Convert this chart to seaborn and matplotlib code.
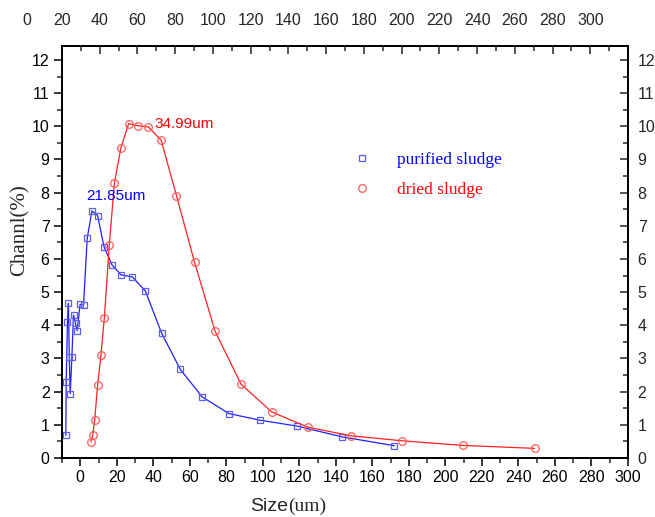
import matplotlib
matplotlib.use("Agg")
import matplotlib.pyplot as plt
from matplotlib.lines import Line2D
from matplotlib.ticker import MultipleLocator
import numpy as np
import pandas as pd
import seaborn as sns

# ---- data ----
purified_x = [-7.9, -7.7, -7.0, -6.5, -6.0, -5.5, -4.6, -3.7, -2.6, -1.7, -0.1, 1.8,
              3.8, 6.4, 9.5, 13.0, 17.4, 22.3, 28.5, 35.7, 44.5, 54.8,
              66.8, 81.4, 98.4, 118.9, 143.2, 172.0]
purified_y = [0.68, 2.29, 4.11, 4.66, 3.03, 1.94, 3.03, 4.31, 4.06, 3.84, 4.63, 4.61,
              6.62, 7.45, 7.31, 6.37, 5.82, 5.52, 5.46, 5.03, 3.77, 2.67,
              1.84, 1.34, 1.14, 0.96, 0.64, 0.37]

dried_x = [5.9, 6.8, 7.9, 9.5, 11.3, 13.2, 15.9, 18.7, 22.3, 26.5, 31.5, 37.3,
           44.3, 52.7, 62.6, 73.8, 88.0, 104.8, 124.6, 148.2, 176.0, 209.5, 248.8]
dried_y = [0.49, 0.69, 1.15, 2.19, 3.09, 4.23, 6.42, 8.29, 9.36, 10.08, 10.02, 9.98,
           9.58, 7.91, 5.90, 3.83, 2.23, 1.39, 0.93, 0.67, 0.52, 0.38, 0.29]

series_names = ["purified sludge", "dried sludge"]
peak_labels = ["21.85um", "34.99um"]
bottom_ticks = list(range(0, 301, 20))
top_ticks = list(range(20, 301, 20))
y_ticks = list(range(0, 13))

sns.set_style("ticks")
plt.rcParams["font.family"] = ["Liberation Sans", "DejaVu Sans"]

fig = plt.figure(figsize=(6.55, 5.17), dpi=100)
ax = fig.add_axes([62 / 655, 1 - 458 / 517, 566 / 655, 412 / 517])

blue_line, blue_mark = "#1f1fff", "#5c5cff"
red_line, red_mark = "#ff2020", "#ff5c5c"

df_p = pd.DataFrame({"x": purified_x, "y": purified_y})
df_d = pd.DataFrame({"x": dried_x, "y": dried_y})
sns.lineplot(data=df_p, x="x", y="y", ax=ax, sort=False, estimator=None,
             color=blue_line, linewidth=0.9, marker="s", markersize=5,
             markerfacecolor="none", markeredgecolor=blue_mark, markeredgewidth=0.9)
sns.lineplot(data=df_d, x="x", y="y", ax=ax, sort=False, estimator=None,
             color=red_line, linewidth=0.9, marker="o", markersize=5.5,
             markerfacecolor="none", markeredgecolor=red_mark, markeredgewidth=0.9)

ax.set_xlim(-10, 300)
ax.set_ylim(0, 12.42)
ax.set_xticks(bottom_ticks)
ax.set_yticks(y_ticks)
ax.xaxis.set_minor_locator(MultipleLocator(10))
ax.yaxis.set_minor_locator(MultipleLocator(0.5))
ax.tick_params(axis="both", which="major", direction="out", length=6, width=1.1,
               labelsize=11.5, pad=3, colors="black")
ax.tick_params(axis="both", which="minor", direction="out", length=3.5, width=1.1)
ax.set_xlabel("")
ax.set_ylabel("")
for s in ax.spines.values():
    s.set_visible(True)
    s.set_linewidth(1.2)
    s.set_color("black")

# top axis
axt = ax.twiny()
axt.set_xlim(20, 320)
axt.set_xticks(top_ticks)
axt.xaxis.set_minor_locator(MultipleLocator(10))
axt.tick_params(axis="x", which="major", direction="in", length=6, width=1.1,
                labelsize=11.5, pad=13)
axt.tick_params(axis="x", which="minor", direction="in", length=3.5, width=1.1)
axt.annotate("0", xy=(1.5, 1), xycoords=("data", "axes fraction"),
             xytext=(0, 13), textcoords="offset points", ha="center", va="bottom",
             fontsize=11.5, annotation_clip=False)

# right axis
axr = ax.twinx()
axr.set_ylim(0, 12.42)
axr.set_yticks(y_ticks)
axr.yaxis.set_minor_locator(MultipleLocator(0.5))
axr.tick_params(axis="y", which="major", direction="in", length=6, width=1.1,
                labelsize=11.5, pad=7)
axr.tick_params(axis="y", which="minor", direction="in", length=3.5, width=1.1)
for a in (axt, axr):
    for s in a.spines.values():
        s.set_linewidth(1.2)
        s.set_color("black")

# peak annotations
ax.text(3.3, 7.89, peak_labels[0], color="blue", fontsize=11, ha="left", va="center")
ax.text(40.6, 10.06, peak_labels[1], color="red", fontsize=11, ha="left", va="center")

# legend
handles = [Line2D([], [], linestyle="none", marker="s", markersize=5,
                  markerfacecolor="none", markeredgecolor=blue_mark, markeredgewidth=0.9),
           Line2D([], [], linestyle="none", marker="o", markersize=5.5,
                  markerfacecolor="none", markeredgecolor=red_mark, markeredgewidth=0.9)]
leg = ax.legend(handles, series_names, loc="upper left", bbox_to_anchor=(0.472, 0.78),
                frameon=False, handletextpad=1.0, labelspacing=0.75,
                prop={"family": ["Liberation Serif"], "size": 12.5},
                labelcolor=["blue", "red"])

# axis titles
fig.text(20 / 655, 1 - 230 / 517, "Channl(%)", rotation=90, ha="center", va="center",
         fontsize=15, family=["Liberation Serif"])
fig.text(288 / 655, 1 - 511 / 517, "Size", ha="right", va="baseline", fontsize=14)
fig.text(288 / 655, 1 - 511 / 517, "(um)", ha="left", va="baseline", fontsize=14,
         family=["Liberation Serif"])

fig.savefig("out.png", dpi=100)
